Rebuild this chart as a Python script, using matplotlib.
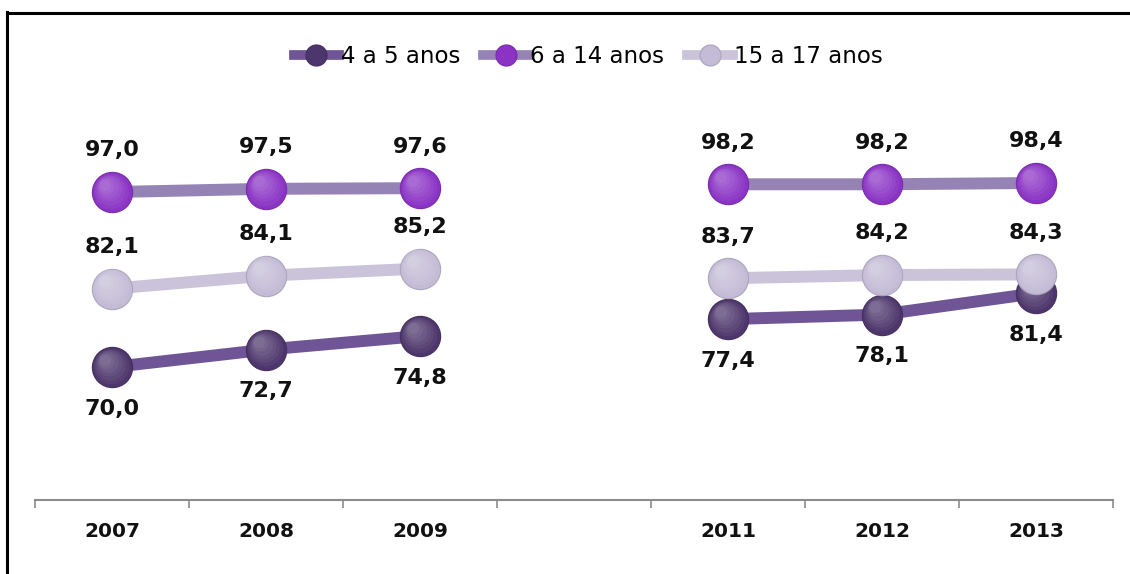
import numpy as np
import matplotlib
matplotlib.use("Agg")
import matplotlib.pyplot as plt
import matplotlib.transforms as mtransforms
from matplotlib.lines import Line2D
from matplotlib.colors import to_rgb

# --- dados ---
anos = ["2007", "2008", "2009", "", "2011", "2012", "2013"]
serie_4a5 = [70.0, 72.7, 74.8, np.nan, 77.4, 78.1, 81.4]
serie_6a14 = [97.0, 97.5, 97.6, np.nan, 98.2, 98.2, 98.4]
serie_15a17 = [82.1, 84.1, 85.2, np.nan, 83.7, 84.2, 84.3]
nomes = ["4 a 5 anos", "6 a 14 anos", "15 a 17 anos"]

# cor da linha, cor da esfera, posicao do rotulo (+1 acima, -1 abaixo)
estilos = [
    ("#6f5596", "#4d366b", -1),
    ("#9583b6", "#8a33c4", 1),
    ("#cbc3da", "#c4bcd6", 1),
]


def clarear(cor, f):
    r, g, b = to_rgb(cor)
    return (r + (1 - r) * f, g + (1 - g) * f, b + (1 - b) * f)


def escurecer(cor, f):
    r, g, b = to_rgb(cor)
    return (r * (1 - f), g * (1 - f), b * (1 - f))


fig = plt.figure(figsize=(11.30, 5.74), dpi=100)
ax = fig.add_axes([35 / 1130, 1 - 500 / 574, 1078 / 1130, 400 / 574])

x = np.arange(len(anos))
series = [serie_4a5, serie_6a14, serie_15a17]

for k, (valores, (cor_linha, cor_esfera, lado)) in enumerate(zip(series, estilos)):
    valores = np.array(valores)
    z = 2 + k * 2
    ax.plot(x, valores, color=cor_linha, lw=8.6, solid_capstyle="butt", zorder=z)
    ok = ~np.isnan(valores)
    # esfera: camadas concentricas para simular o brilho
    ax.plot(x[ok], valores[ok], "o", ms=29, color=cor_esfera,
            mec=escurecer(cor_esfera, 0.12), mew=0.8, zorder=z + 0.5)
    for i in range(1, 7):
        tr = mtransforms.offset_copy(ax.transData, fig=fig, x=-0.8 * i, y=0.9 * i, units="points")
        ax.plot(x[ok], valores[ok], "o", ms=29 * (1 - 0.12 * i), mew=0,
                color=clarear(cor_esfera, 0.045 * i), transform=tr, zorder=z + 0.5 + i * 0.01)
    for xi, v in zip(x[ok], valores[ok]):
        ax.annotate(f"{v:.1f}".replace(".", ","), (xi, v), xytext=(0, 30 * lado),
                    textcoords="offset points", ha="center", va="center",
                    fontsize=16, fontweight="bold", color="#111111", zorder=20)

ax.set_xlim(-0.5, len(anos) - 0.5)
ax.set_ylim(49.5, 111.2)
ax.set_xticks(x)
ax.set_xticklabels(anos, fontsize=14.5, fontweight="bold", color="#111111")
ax.set_xticks(np.arange(-0.5, len(anos), 1), minor=True)
ax.tick_params(axis="x", which="major", length=0, pad=16)
ax.tick_params(axis="x", which="minor", length=6, color="#8c8c8c", width=1.2)
ax.set_yticks([])
for s in ["top", "right", "left"]:
    ax.spines[s].set_visible(False)
ax.spines["bottom"].set_color("#8c8c8c")
ax.spines["bottom"].set_linewidth(1.5)

# legenda
handles = [Line2D([0], [0], color=cl, lw=7, marker="o", ms=15, mfc=ce, mec=escurecer(ce, 0.1))
           for cl, ce, _ in estilos]
fig.legend(handles, nomes, loc="center", bbox_to_anchor=(588 / 1130, 1 - 57 / 574),
           ncol=3, frameon=False, handlelength=2.0, handletextpad=0.05,
           columnspacing=1.0, prop={"size": 16.5, "weight": "medium"})

# moldura (so topo e esquerda aparecem)
fig.add_artist(Line2D([6.5 / 1130, 6.5 / 1130], [0, 1 - 12 / 574], color="black", lw=2.2))
fig.add_artist(Line2D([6.5 / 1130, 1], [1 - 12.5 / 574, 1 - 12.5 / 574], color="black", lw=2.2))

fig.savefig("out.png", dpi=100)
